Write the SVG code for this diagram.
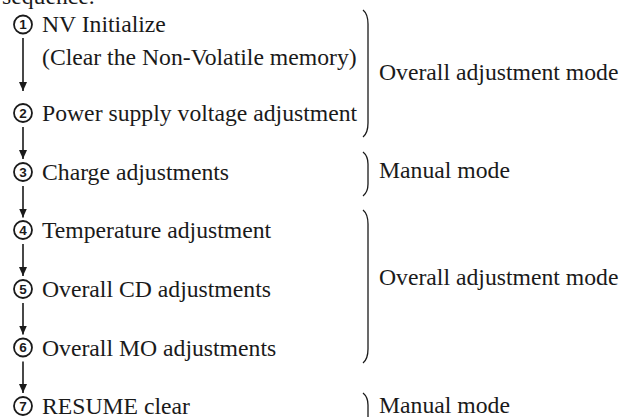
<svg xmlns="http://www.w3.org/2000/svg" width="624" height="417" viewBox="0 0 624 417">
<defs>
<style>
.t{font-family:"Liberation Serif","Times New Roman",serif;font-size:23.7px;fill:#1a1a1a}
.c{fill:none;stroke:#1a1a1a;stroke-width:1.8}
.d{font-family:"Liberation Sans",Arial,sans-serif;font-size:13.5px;font-weight:bold;fill:#1a1a1a;text-anchor:middle}
.a{stroke:#1a1a1a;stroke-width:1.6;fill:none}
.b{stroke:#1a1a1a;stroke-width:1.3;fill:none}
</style>
<marker id="ah" viewBox="0 0 9 8" refX="9" refY="4" markerWidth="9" markerHeight="8" markerUnits="userSpaceOnUse" orient="auto">
<path d="M0,0 L9,4 L0,8 Z" fill="#1a1a1a"/>
</marker>
</defs>
<rect width="624" height="417" fill="#ffffff"/>
<text class="t" x="2" y="4">sequence.</text>
<g id="step1">
<circle class="c" cx="23" cy="24.5" r="9"/>
<text class="d" x="23" y="29.3">1</text>
<text class="t" x="42" y="32">NV Initialize</text>
<text class="t" x="42" y="65">(Clear the Non-Volatile memory)</text>
</g>
<g id="step2">
<circle class="c" cx="23" cy="113" r="9"/>
<text class="d" x="23" y="117.8">2</text>
<text class="t" x="42" y="121">Power supply voltage adjustment</text>
</g>
<g id="step3">
<circle class="c" cx="23" cy="172" r="9"/>
<text class="d" x="23" y="176.8">3</text>
<text class="t" x="42" y="180">Charge adjustments</text>
</g>
<g id="step4">
<circle class="c" cx="23" cy="230" r="9"/>
<text class="d" x="23" y="234.8">4</text>
<text class="t" x="42" y="238">Temperature adjustment</text>
</g>
<g id="step5">
<circle class="c" cx="23" cy="289" r="9"/>
<text class="d" x="23" y="293.8">5</text>
<text class="t" x="42" y="297">Overall CD adjustments</text>
</g>
<g id="step6">
<circle class="c" cx="23" cy="347.5" r="9"/>
<text class="d" x="23" y="352.3">6</text>
<text class="t" x="42" y="355.5">Overall MO adjustments</text>
</g>
<g id="step7">
<circle class="c" cx="23" cy="406" r="9"/>
<text class="d" x="23" y="410.8">7</text>
<text class="t" x="42" y="414">RESUME clear</text>
</g>
<g id="connectors">
<line class="a" x1="23" y1="38" x2="23" y2="91" marker-end="url(#ah)"/>
<line class="a" x1="23" y1="127" x2="23" y2="159" marker-end="url(#ah)"/>
<line class="a" x1="23" y1="186" x2="23" y2="217.5" marker-end="url(#ah)"/>
<line class="a" x1="23" y1="244" x2="23" y2="276" marker-end="url(#ah)"/>
<line class="a" x1="23" y1="303" x2="23" y2="334.5" marker-end="url(#ah)"/>
<line class="a" x1="23" y1="361.5" x2="23" y2="393" marker-end="url(#ah)"/>
</g>
<g id="mode1">
<path class="b" d="M363,10 Q368,14 368,24 L368,123 Q368,133 363,137"/>
<text class="t" x="379" y="80">Overall adjustment mode</text>
</g>
<g id="mode2">
<path class="b" d="M363,152 Q368,156 368,164 L368,184 Q368,192 363,196"/>
<text class="t" x="379" y="178">Manual mode</text>
</g>
<g id="mode3">
<path class="b" d="M363,210 Q368,214 368,224 L368,349 Q368,359 363,363"/>
<text class="t" x="379" y="285">Overall adjustment mode</text>
</g>
<g id="mode4">
<path class="b" d="M363,393 Q368,397 368,405 L368,425 Q368,433 363,437"/>
<text class="t" x="379" y="413">Manual mode</text>
</g>
</svg>
